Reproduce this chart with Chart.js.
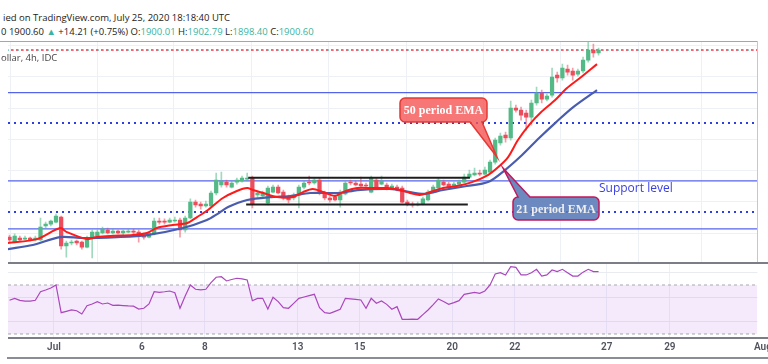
<!DOCTYPE html>
<html>
<head>
<meta charset="utf-8">
<script src="https://cdn.jsdelivr.net/npm/chart.js@4.4.1/dist/chart.umd.min.js"></script>
<style>
  body { margin: 0; width: 768px; height: 364px; background: #fff; overflow: hidden; position: relative; font-family: 'Open Sans', sans-serif; }
  .t { position: absolute; white-space: nowrap; font-size: 9.5px; color: #222; }
  .g { color: #3bb3a0; }
  .ln { position: absolute; }
  canvas { position: absolute; left: 0; }
</style>
</head>
<body>
<div class="t" style="left:3px; top:11px;">ied on TradingView.com, July 25, 2020 18:18:40 UTC</div>
<div class="t" style="left:1px; top:25px;">0 1900.60 <span class="g">▲</span> +14.21 (+0.75%) O:<span class="g">1900.01</span> H:<span class="g">1902.79</span> L:<span class="g">1898.40</span> C:<span class="g">1900.60</span></div>

<canvas id="main" width="768" height="222" style="top:41px"></canvas>
<canvas id="rsi" width="768" height="101" style="top:263px"></canvas>

<div class="t" style="left:1px; top:51px; color:#444;">ollar, 4h, IDC</div>
<div class="t" style="left:599px; top:179px; font-size:12px; color:#3a3fe0;">Support level</div>

<div class="ln" style="left:0; top:41px; width:758px; height:1px; background:#a3a6af;"></div>
<div class="ln" style="left:757px; top:41px; width:1px; height:222px; background:#c4c7cf;"></div>
<div class="ln" style="left:8px; top:262px; width:760px; height:2px; background:#7b7e87;"></div>
<div class="ln" style="left:8px; top:337px; width:760px; height:2px; background:#7b7e87;"></div>
<div class="ln" style="left:7px; top:357px; width:761px; height:2px; background:#8a8d96;"></div>

<script>
// 4h gold candles, one entry per bar
const opens = [1777.4,1774.2,1776.8,1776.1,1776.8,1775.5,1775.5,1784.5,1785.7,1787.0,
  1790.2,1771.7,1773.6,1774.9,1774.2,1771.0,1776.8,1778.1,1780.0,1781.9,
  1780.0,1781.3,1780.0,1780.6,1781.3,1780.6,1778.7,1777.4,1779.4,1787.7,
  1787.7,1787.0,1787.7,1788.3,1781.9,1789.6,1799.8,1798.5,1797.3,1797.3,
  1805.6,1810.7,1812.6,1809.4,1812.6,1813.3,1814.5,1815.2,1804.3,1803.7,
  1799.2,1806.2,1809.4,1806.2,1803.0,1802.4,1804.3,1809.4,1812.6,1812.0,
  1813.9,1805.6,1802.4,1803.0,1801.1,1805.0,1812.6,1812.0,1811.3,1810.7,
  1806.2,1813.9,1811.3,1810.7,1808.8,1809.4,1808.8,1799.8,1798.5,1797.9,
  1798.5,1801.1,1806.2,1808.8,1812.6,1811.3,1810.1,1811.3,1812.6,1815.8,
  1817.1,1818.4,1817.7,1819.0,1825.4,1837.6,1842.7,1840.8,1860.0,1858.7,
  1856.8,1854.2,1863.2,1869.6,1865.7,1868.3,1881.1,1879.2,1884.9,1883.7,
  1881.7,1883.7,1890.7,1897.1,1895.2];
const highs = [1778.7,1779.4,1778.1,1778.1,1777.4,1778.1,1789.6,1787.0,1788.3,1792.1,
  1790.9,1774.9,1775.5,1775.5,1774.9,1778.1,1781.9,1781.9,1783.8,1783.2,
  1782.5,1781.9,1781.9,1782.5,1782.5,1781.9,1780.0,1780.6,1789.6,1789.6,
  1789.0,1789.6,1790.2,1789.6,1790.9,1801.8,1801.1,1799.8,1800.5,1806.9,
  1818.4,1819.0,1813.9,1813.3,1815.2,1816.5,1818.4,1816.5,1806.9,1806.9,
  1810.1,1810.7,1810.7,1807.5,1804.3,1805.6,1810.7,1813.3,1816.5,1815.2,
  1815.2,1806.9,1803.7,1804.3,1807.5,1813.3,1813.9,1813.3,1815.8,1812.0,
  1816.5,1815.2,1816.5,1812.0,1811.3,1810.7,1810.1,1801.1,1799.8,1799.8,
  1803.0,1807.5,1810.7,1815.2,1813.9,1812.6,1812.6,1813.9,1817.7,1820.3,
  1821.6,1820.3,1822.2,1826.7,1840.8,1844.0,1844.6,1864.5,1861.9,1860.6,
  1858.7,1865.1,1873.4,1871.5,1868.9,1885.6,1883.0,1888.1,1887.5,1885.6,
  1885.0,1892.6,1902.9,1900.9,1898.4];
const lows = [1774.2,1773.6,1774.9,1775.5,1774.9,1774.9,1774.9,1783.2,1784.5,1786.4,
  1769.7,1764.6,1772.3,1772.3,1769.7,1770.4,1764.0,1777.4,1779.4,1779.4,
  1779.4,1779.4,1778.7,1780.0,1779.4,1774.2,1776.1,1776.8,1778.7,1785.7,
  1785.7,1786.4,1787.0,1777.4,1780.6,1789.0,1796.6,1795.3,1796.6,1796.6,
  1804.3,1809.4,1809.4,1808.8,1811.3,1812.6,1813.3,1796.0,1803.0,1803.0,
  1797.9,1805.6,1805.0,1801.1,1799.2,1801.1,1796.0,1808.2,1810.7,1811.3,
  1804.3,1801.1,1799.8,1800.5,1796.6,1804.3,1810.7,1810.1,1809.4,1808.8,
  1805.6,1808.8,1810.7,1807.5,1808.2,1806.9,1799.2,1797.3,1796.6,1797.3,
  1797.9,1800.5,1805.6,1808.2,1810.1,1808.8,1809.4,1810.7,1812.0,1815.2,
  1816.5,1816.5,1817.1,1818.4,1824.1,1836.3,1838.2,1839.5,1857.4,1852.3,
  1845.9,1849.1,1861.9,1863.2,1864.5,1867.0,1876.6,1877.9,1881.1,1877.9,
  1880.5,1882.4,1889.4,1892.6,1893.9];
const closes = [1775.5,1778.1,1775.5,1776.8,1775.5,1776.8,1783.8,1785.7,1787.7,1790.9,
  1771.7,1773.6,1774.2,1773.6,1771.0,1776.8,1780.6,1780.6,1782.5,1780.0,
  1781.3,1780.0,1781.3,1781.3,1780.6,1778.1,1777.4,1780.0,1787.7,1787.0,
  1787.0,1788.3,1788.3,1781.9,1789.6,1799.8,1797.9,1797.3,1798.5,1805.6,
  1813.9,1813.3,1810.7,1812.0,1813.9,1815.2,1815.2,1798.5,1805.6,1805.6,
  1808.8,1809.4,1805.6,1802.4,1801.1,1804.3,1809.4,1812.0,1812.0,1813.9,
  1805.6,1802.4,1801.1,1801.1,1806.2,1812.0,1812.0,1810.7,1810.1,1810.1,
  1815.2,1809.4,1813.3,1808.8,1810.1,1807.5,1799.8,1798.5,1797.9,1798.5,
  1801.8,1806.2,1809.4,1813.9,1810.7,1809.4,1811.3,1812.6,1815.8,1817.7,
  1818.4,1817.7,1820.3,1825.4,1839.5,1842.1,1840.8,1860.0,1858.7,1855.5,
  1854.2,1863.2,1869.6,1865.7,1867.7,1879.8,1879.2,1885.6,1883.0,1881.1,
  1883.7,1890.7,1897.1,1895.2,1897.1];

// moving averages: bar position, price
const redEmaX = [-0.3,5.3,9.8,11.1,15.0,16.9,19.5,23.9,26.6,28.5,31.6,34.4,36.3,38.4,41.3,44.0,46.0,47.1,49.1,51.8,
  54.9,56.8,58.7,60.7,63.0,64.5,67.3,70.4,73.1,75.6,77.5,79.4,81.4,83.9,86.6,89.5,92.6,94.6,96.5,98.4,
  100.7,102.9,105.6,107.9,110.4,113.7];
const redEmaY = [1773.6,1776.1,1783.2,1780.6,1776.1,1777.4,1778.1,1778.7,1780.0,1783.2,1785.1,1786.4,1790.2,1794.7,1802.4,1806.9,1808.8,1807.5,1805.6,1803.0,
  1803.0,1806.2,1808.2,1806.2,1803.7,1806.2,1808.8,1808.8,1808.8,1807.5,1805.6,1804.3,1806.2,1808.8,1810.1,1812.6,1817.1,1822.2,1828.6,1839.5,
  1849.7,1857.4,1865.1,1872.8,1879.2,1888.1];
const blueEmaX = [-0.3,4.5,9.8,14.2,20.8,26.6,33.6,38.2,40.2,42.3,46.0,50.4,54.3,58.2,64.0,67.3,73.6,77.5,80.0,83.9,
  88.5,92.6,95.9,99.2,102.5,105.8,109.1,113.7];
const blueEmaY = [1769.7,1772.3,1777.4,1776.8,1777.4,1778.7,1783.2,1788.3,1792.1,1796.6,1801.1,1803.0,1803.7,1805.6,1805.6,1807.5,1808.2,1806.2,1805.0,1807.5,
  1810.1,1812.6,1820.3,1829.9,1840.8,1851.0,1860.6,1871.5];

// RSI, one value per bar
const rsi = [57.5,59.1,57.5,56.9,56.9,57.5,64.5,65.9,67.5,70.0,
  47.4,48.5,49.6,49.0,46.3,53.1,54.5,56.4,54.5,55.3,
  53.4,53.5,53.2,52.9,52.7,50.4,51.0,54.5,64.5,64.0,
  64.5,65.1,63.7,51.0,61.0,70.0,66.5,66.0,66.5,72.0,
  76.3,76.8,73.3,74.5,75.5,75.0,74.1,57.2,59.1,59.1,
  50.4,60.0,56.4,51.5,51.0,55.0,59.1,60.2,61.3,62.4,
  51.5,47.4,46.9,48.5,50.2,59.1,58.7,58.3,57.8,51.0,
  59.1,55.1,56.9,54.2,50.2,52.3,42.0,42.0,42.1,42.0,
  45.8,49.6,54.0,58.6,56.5,54.2,55.6,57.2,62.4,63.2,
  64.0,63.2,65.1,70.0,79.0,80.0,78.2,84.9,84.4,78.2,
  78.2,80.0,82.8,77.3,78.2,82.2,80.9,82.8,80.0,77.3,
  77.3,80.5,82.8,80.9,80.9];

// horizontal levels drawn on the chart
const solidLevels = [1869.9, 1813.4, 1782.7];
const dottedLevels = [1850.4, 1793.4];
const lastPrice = 1897.1;
const rangeTop = { from: 46.2, to: 89.1, price: 1815.4 };
const rangeBottom = { from: 45.8, to: 88.7, price: 1798.2 };

// date axis
const dayTicks = [8.6, 25.6, 37.8, 55.8, 67.8, 85.7, 97.8, 115.6, 127.8, 145.8];
const dayLabels = ['Jul', '6', '8', '13', '15', '20', '22', '27', '29', 'Aug'];
const priceGrid = [1780, 1800, 1820, 1840, 1860, 1880, 1900];
const rsiGrid = [40, 60, 80];

const X_MIN = -0.29, X_MAX = 144.76;
const UP = '#53b987', DOWN = '#eb4d5c';

function hline(price, from, to) {
  return [{ x: from, y: price }, { x: to, y: price }];
}
function pts(xs, ys) {
  return xs.map((x, i) => ({ x: x, y: ys[i] }));
}
const isUp = i => closes[i] >= opens[i];

const levelSets = [];
solidLevels.forEach(p => levelSets.push({
  type: 'line', data: hline(p, X_MIN, X_MAX), borderColor: '#5565ea', borderWidth: 1.3,
  pointRadius: 0, order: 9
}));
dottedLevels.forEach(p => levelSets.push({
  type: 'line', data: hline(p, X_MIN, X_MAX), borderColor: '#2b3fe3', borderWidth: 2,
  borderDash: [2, 4], pointRadius: 0, order: 9
}));

function callout(ctx, o) {
  const { x, y, w, h, r, side, b1, b2, tx, ty } = o;
  ctx.beginPath();
  ctx.moveTo(x + r, y);
  if (side === 'top') { ctx.lineTo(b1, y); ctx.lineTo(tx, ty); ctx.lineTo(b2, y); }
  ctx.lineTo(x + w - r, y);
  ctx.arcTo(x + w, y, x + w, y + r, r);
  ctx.lineTo(x + w, y + h - r);
  ctx.arcTo(x + w, y + h, x + w - r, y + h, r);
  if (side === 'bottom') { ctx.lineTo(b2, y + h); ctx.lineTo(tx, ty); ctx.lineTo(b1, y + h); }
  ctx.lineTo(x + r, y + h);
  ctx.arcTo(x, y + h, x, y + h - r, r);
  ctx.lineTo(x, y + r);
  ctx.arcTo(x, y, x + r, y, r);
  ctx.closePath();
  ctx.fillStyle = o.fill;
  ctx.fill();
  ctx.lineWidth = 1.5;
  ctx.strokeStyle = o.stroke;
  ctx.stroke();
  ctx.fillStyle = o.color;
  ctx.font = 'bold 12px "Liberation Serif"';
  ctx.textAlign = 'center';
  ctx.textBaseline = 'middle';
  ctx.fillText(o.text, x + w / 2, y + h / 2 + 1);
}

const calloutPlugin = {
  id: 'callouts',
  afterDatasetsDraw(chart) {
    const ctx = chart.ctx;
    ctx.save();
    // page y minus 41 (canvas top)
    callout(ctx, { x: 400, y: 57, w: 87, h: 24, r: 5, side: 'bottom', b1: 470, b2: 482, tx: 497, ty: 116,
      fill: 'rgba(245,85,85,0.8)', stroke: '#e53935', color: '#ffffff', text: '50 period EMA' });
    callout(ctx, { x: 513, y: 156, w: 86, h: 23, r: 5, side: 'top', b1: 518, b2: 530, tx: 503, ty: 127,
      fill: 'rgba(88,122,182,0.88)', stroke: '#c2185b', color: '#eeeeee', text: '21 period EMA' });
    ctx.restore();
  }
};

new Chart(document.getElementById('main'), {
  type: 'bar',
  data: {
    datasets: [
      ...levelSets,
      {
        type: 'line', data: hline(lastPrice, X_MIN, X_MAX), borderColor: '#26a69a', borderWidth: 1,
        borderDash: [1, 4], pointRadius: 0, order: 8
      },
      {
        type: 'line', data: hline(lastPrice, X_MIN, X_MAX), borderColor: '#f23645', borderWidth: 1.5,
        borderDash: [2, 3], borderDashOffset: 2, pointRadius: 0, order: 8
      },
      {
        label: 'wicks', data: opens.map((_, i) => ({ x: i, y: [lows[i], highs[i]] })),
        backgroundColor: c => isUp(c.dataIndex) ? 'rgba(83,185,135,0.55)' : 'rgba(235,77,92,0.55)',
        barThickness: 1, grouped: false, order: 6
      },
      {
        label: 'bodies', data: opens.map((o, i) => ({ x: i, y: [o, closes[i]] })),
        backgroundColor: c => isUp(c.dataIndex) ? UP : DOWN,
        barThickness: 3.6, minBarLength: 1, grouped: false, order: 5
      },
      {
        type: 'line', data: pts(blueEmaX, blueEmaY), borderColor: '#4a5cae', borderWidth: 2.2,
        pointRadius: 0, tension: 0.3, order: 3
      },
      {
        type: 'line', data: pts(redEmaX, redEmaY), borderColor: '#ff1a1a', borderWidth: 2,
        pointRadius: 0, tension: 0.3, order: 2
      },
      {
        type: 'line', data: hline(rangeTop.price, rangeTop.from, rangeTop.to), borderColor: '#1e1e1e',
        borderWidth: 2, pointRadius: 0, order: 1
      },
      {
        type: 'line', data: hline(rangeBottom.price, rangeBottom.from, rangeBottom.to), borderColor: '#1e1e1e',
        borderWidth: 2, pointRadius: 0, order: 1
      }
    ]
  },
  options: {
    responsive: false,
    animation: false,
    events: [],
    layout: { padding: { left: 8, right: 10.5, top: 0, bottom: 0 } },
    plugins: { legend: { display: false }, tooltip: { enabled: false } },
    scales: {
      x: {
        type: 'linear', min: X_MIN, max: X_MAX, offset: false,
        afterBuildTicks: s => { s.ticks = dayTicks.slice(0, 9).map(v => ({ value: v })); },
        ticks: { display: false },
        grid: { color: '#edf1f5', drawTicks: false },
        border: { display: false }
      },
      y: {
        min: 1760.8, max: 1902.9,
        afterBuildTicks: s => { s.ticks = priceGrid.map(v => ({ value: v })); },
        ticks: { display: false },
        grid: { color: '#edf1f5', drawTicks: false },
        border: { display: false }
      }
    }
  },
  plugins: [calloutPlugin]
});

new Chart(document.getElementById('rsi'), {
  type: 'line',
  data: {
    datasets: [
      {
        data: rsi.map((v, i) => ({ x: i, y: v })), borderColor: '#ab47bc', borderWidth: 1.2,
        pointRadius: 0, order: 1
      },
      {
        data: hline(70, X_MIN, X_MAX), borderColor: '#a8a8b0', borderWidth: 1, borderDash: [3, 3],
        pointRadius: 0, fill: { value: 30 }, backgroundColor: 'rgba(170,80,230,0.12)', order: 5
      },
      {
        data: hline(30, X_MIN, X_MAX), borderColor: '#a8a8b0', borderWidth: 1, borderDash: [3, 3],
        pointRadius: 0, order: 5
      }
    ]
  },
  options: {
    responsive: false,
    animation: false,
    events: [],
    layout: { padding: { left: 8, right: 10.5, top: 1, bottom: 8 } },
    plugins: { legend: { display: false }, tooltip: { enabled: false } },
    scales: {
      x: {
        type: 'linear', min: X_MIN, max: X_MAX, offset: false,
        afterBuildTicks: s => { s.ticks = dayTicks.map(v => ({ value: v })); },
        afterFit: s => { s.paddingLeft = 0; s.paddingRight = 0; },
        ticks: {
          autoSkip: false, maxRotation: 0, padding: 3, color: '#50535e',
          font: { family: 'Roboto', size: 10, weight: '600' },
          callback: (v, i) => dayLabels[i]
        },
        grid: { color: c => c.index === 9 ? 'rgba(0,0,0,0)' : '#edf1f5', drawTicks: false },
        border: { display: false }
      },
      y: {
        min: 26.73, max: 87.14,
        afterBuildTicks: s => { s.ticks = rsiGrid.map(v => ({ value: v })); },
        ticks: { display: false },
        grid: { color: '#e8ecf1', drawTicks: false },
        border: { display: false }
      }
    }
  }
});
</script>
</body>
</html>
